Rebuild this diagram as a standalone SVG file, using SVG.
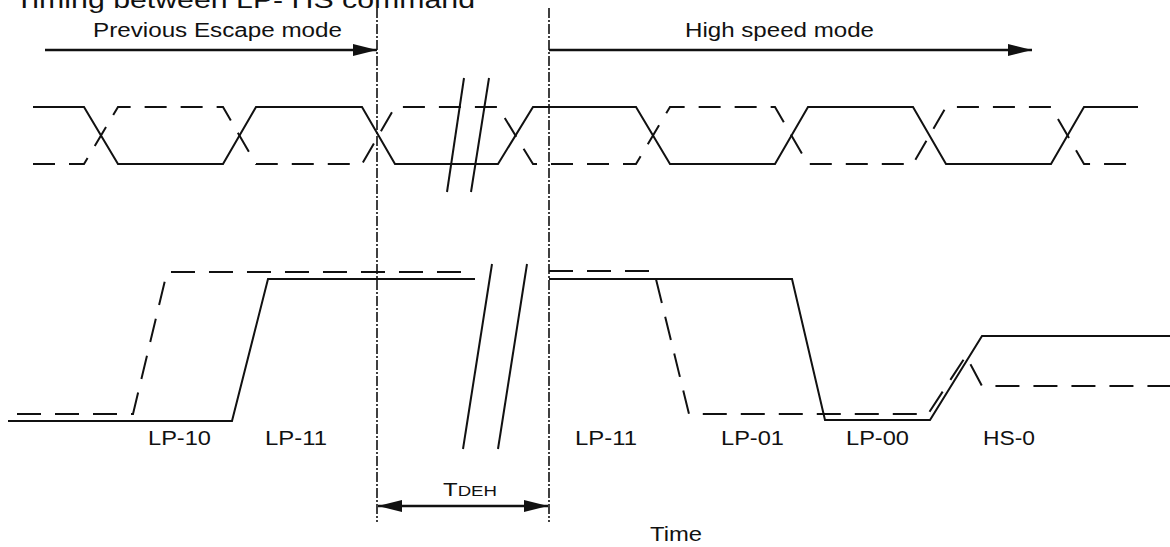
<svg xmlns="http://www.w3.org/2000/svg" width="1170" height="547" viewBox="0 0 1170 547">
<style>
  text { font-family: "Liberation Sans", Arial, sans-serif; fill: #111; }
  .lbl { font-size: 19.5px; }
  .sig { fill: none; stroke: #111; stroke-width: 2; stroke-linejoin: miter; }
  .dash { fill: none; stroke: #111; stroke-width: 2; stroke-dasharray: 24 14; }
  .udash { fill: none; stroke: #111; stroke-width: 2; stroke-dasharray: 22 14; }
  .vline { fill: none; stroke: #111; stroke-width: 1.6; stroke-dasharray: 10 2 2 2; }
  .arr { fill: none; stroke: #111; stroke-width: 2.5; }
  .brk { fill: none; stroke: #111; stroke-width: 2; }
</style>
<defs>
  <marker id="ah" markerUnits="userSpaceOnUse" markerWidth="26" markerHeight="14" refX="24" refY="7" orient="auto-start-reverse">
    <polygon points="0,1 24,7 0,13" fill="#111"/>
  </marker>
</defs>
<rect width="1170" height="547" fill="#ffffff"/>

<g id="title">
  <text x="15" y="8" style="font-size:24px" textLength="460" lengthAdjust="spacingAndGlyphs">Timing between LP- HS command</text>
</g>

<g id="connectors">
  <line class="vline" x1="377" y1="8" x2="377" y2="522"/>
  <line class="vline" x1="549" y1="8" x2="549" y2="522"/>
  <line class="arr" x1="45" y1="50" x2="377" y2="50" marker-end="url(#ah)"/>
  <line class="arr" x1="549" y1="50" x2="1032" y2="50" marker-end="url(#ah)"/>
  <line class="arr" x1="378" y1="506" x2="548" y2="506" marker-start="url(#ah)" marker-end="url(#ah)"/>
</g>

<g id="mode-labels">
  <text class="lbl" x="93" y="37" textLength="249" lengthAdjust="spacingAndGlyphs">Previous Escape mode</text>
  <text class="lbl" x="685" y="37" textLength="189" lengthAdjust="spacingAndGlyphs">High speed mode</text>
</g>

<g id="upper-waveform">
  <path class="sig" d="M33,107 H84 L118,164 H223 L256,107 H362 L395,164 H498 L533,107 H636 L670,164 H775 L808,107 H913 L946,164 H1051 L1084,107 H1138"/>
  <path class="udash" d="M33,164 H84 L118,107 H223 L256,164 H362 L395,107 H498 L533,164 H636 L670,107 H775 L808,164 H913 L946,107 H1051 L1084,164 H1138"/>
  <line class="brk" x1="464" y1="78" x2="447" y2="192"/>
  <line class="brk" x1="489" y1="78" x2="471" y2="192"/>
</g>

<g id="lower-waveform">
  <path class="sig" d="M8,421 H232 L268,279 H475"/>
  <path class="dash" d="M17,414 H133 L167,272 H470"/>
  <path class="sig" d="M549,279 H792 L825,420 H930 L982,336 H1170"/>
  <path class="dash" d="M549,271 H654 L689,414 H928 L966,356 L982,386 H1170"/>
  <line class="brk" x1="492" y1="264" x2="463" y2="449"/>
  <line class="brk" x1="527" y1="264" x2="498" y2="449"/>
</g>

<g id="state-labels">
  <text class="lbl" x="148" y="445" textLength="63" lengthAdjust="spacingAndGlyphs">LP-10</text>
  <text class="lbl" x="265" y="445" textLength="62" lengthAdjust="spacingAndGlyphs">LP-11</text>
  <text class="lbl" x="575" y="445" textLength="62" lengthAdjust="spacingAndGlyphs">LP-11</text>
  <text class="lbl" x="721" y="445" textLength="63" lengthAdjust="spacingAndGlyphs">LP-01</text>
  <text class="lbl" x="846" y="445" textLength="63" lengthAdjust="spacingAndGlyphs">LP-00</text>
  <text class="lbl" x="983" y="445" textLength="52" lengthAdjust="spacingAndGlyphs">HS-0</text>
</g>

<g id="tdeh">
  <text x="443" y="496" style="font-size:18px" textLength="54" lengthAdjust="spacingAndGlyphs"><tspan>T</tspan><tspan style="font-size:14px">DEH</tspan></text>
</g>

<g id="time">
  <text class="lbl" x="650" y="541" textLength="52" lengthAdjust="spacingAndGlyphs">Time</text>
</g>
</svg>
